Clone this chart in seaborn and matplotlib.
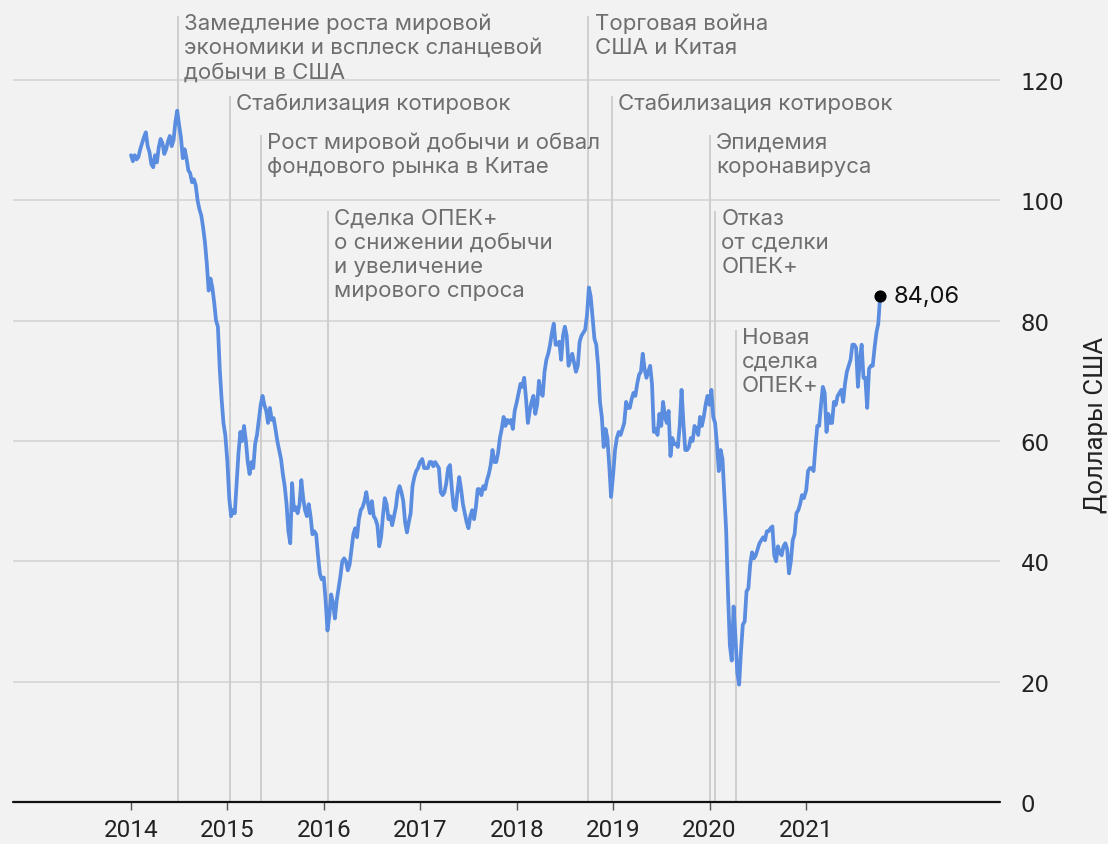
import matplotlib
matplotlib.use("Agg")
import matplotlib.pyplot as plt
import pandas as pd
import seaborn as sns

# ---------------- data (weekly Brent price, USD) ----------------
years = [2014, 2015, 2016, 2017, 2018, 2019, 2020, 2021]

price_2014 = [107.5, 106.5, 107.5, 106.8, 107.2, 108.5, 109.5, 110.5, 111.3, 109.0,
              108.0, 106.0, 105.5, 107.5, 106.3, 108.8, 110.2, 109.5, 107.7, 108.5,
              109.8, 110.7, 109.0, 110.0, 113.0, 114.9, 112.5, 110.5, 107.0, 108.5,
              107.0, 105.0, 104.5, 103.0, 103.5, 102.5, 100.0, 98.5, 97.5, 95.5,
              93.0, 89.5, 85.0, 87.0, 85.5, 83.0, 80.0, 79.0, 72.0, 67.0,
              63.0, 61.0]
price_2015 = [56.5, 50.5, 47.5, 48.5, 48.0, 53.0, 58.0, 61.5, 60.0, 62.5,
              60.0, 56.5, 54.5, 56.5, 55.5, 59.5, 61.0, 63.5, 66.0, 67.5,
              66.0, 65.0, 63.0, 65.5, 63.5, 63.8, 62.0, 60.0, 58.5, 57.0,
              54.5, 52.5, 49.5, 45.0, 43.0, 53.0, 48.5, 49.0, 48.0, 49.5,
              53.5, 50.5, 48.5, 47.5, 49.5, 47.5, 44.5, 45.0, 44.5, 41.0,
              38.0, 37.0]
price_2016 = [37.3, 33.5, 28.5, 31.0, 34.5, 33.0, 30.5, 33.5, 35.5, 37.5,
              40.0, 40.5, 40.0, 38.5, 39.5, 42.0, 44.5, 45.5, 44.0, 47.0,
              48.5, 49.0, 50.0, 51.5, 49.5, 48.0, 50.0, 47.5, 47.0, 46.0,
              42.5, 44.0, 47.5, 50.5, 49.5, 47.0, 47.5, 46.0, 47.5, 49.0,
              51.5, 52.5, 51.5, 50.0, 46.5, 44.8, 46.5, 48.0, 52.5, 54.0,
              55.0, 55.5, 56.5]
price_2017 = [56.5, 57.0, 55.5, 55.5, 55.5, 56.5, 56.5, 55.8, 56.5, 56.0,
              55.5, 51.5, 51.0, 51.5, 53.0, 55.5, 56.0, 52.0, 49.0, 48.5,
              51.5, 54.0, 52.0, 49.5, 48.0, 46.5, 45.5, 47.5, 48.5, 47.0,
              49.0, 52.0, 52.0, 51.0, 52.5, 52.0, 53.5, 54.5, 56.0, 58.5,
              56.5, 56.5, 58.0, 60.5, 62.0, 64.0, 62.5, 63.5, 63.0, 63.5,
              62.0, 65.0]
price_2018 = [66.5, 68.0, 69.5, 69.0, 70.5, 67.0, 63.0, 65.0, 66.5, 67.5,
              64.5, 66.0, 70.0, 68.0, 67.5, 71.5, 73.5, 74.5, 76.0, 78.0,
              79.5, 76.0, 76.0, 76.5, 73.5, 77.5, 79.0, 77.5, 72.5, 73.5,
              74.5, 73.0, 71.5, 72.5, 76.5, 77.5, 78.0, 78.5, 81.0, 85.5,
              84.0, 80.5, 77.0, 76.0, 72.5, 66.5, 64.0, 59.0, 62.0, 60.5,
              56.0, 50.7]
price_2019 = [54.5, 58.5, 60.5, 61.5, 61.0, 62.0, 63.0, 66.5, 65.5, 65.5,
              67.0, 68.0, 67.5, 69.5, 71.0, 71.5, 74.5, 72.0, 70.5, 71.5,
              72.5, 69.5, 61.5, 62.0, 61.0, 64.5, 62.5, 66.5, 64.0, 63.0,
              65.0, 57.5, 60.5, 59.5, 59.5, 59.0, 62.5, 68.5, 63.0, 58.5,
              58.5, 59.0, 60.5, 60.0, 62.5, 62.0, 61.0, 64.0, 62.5, 64.0,
              66.0, 67.5]
price_2020 = [66.0, 68.5, 64.0, 63.0, 59.5, 55.0, 58.5, 57.0, 51.0, 45.0,
              34.5, 26.0, 23.5, 32.5, 27.5, 21.5, 19.5, 25.0, 29.5, 30.0,
              35.0, 35.5, 39.5, 41.5, 40.5, 41.0, 42.0, 43.0, 43.5, 44.0,
              43.5, 45.0, 45.0, 45.5, 45.8, 41.0, 40.0, 42.5, 41.5, 41.0,
              42.5, 43.0, 42.0, 38.0, 40.0, 43.5, 44.5, 48.0, 48.5, 49.5,
              51.0, 50.5]
price_2021 = [51.8, 55.0, 55.5, 55.5, 55.0, 59.0, 62.5, 62.5, 66.0, 69.0,
              68.0, 61.5, 64.5, 63.0, 63.0, 66.5, 66.0, 67.5, 68.0, 68.5,
              66.5, 69.5, 71.5, 72.5, 73.5, 76.0, 76.0, 75.5, 69.0, 73.5,
              76.0, 70.5, 70.5, 65.5, 72.0, 72.5, 72.5, 75.5, 78.0, 79.5,
              84.06]

yearly_prices = [price_2014, price_2015, price_2016, price_2017,
                 price_2018, price_2019, price_2020, price_2021]

event_dates = ["2014-06-27", "2015-01-10", "2015-05-08", "2016-01-16",
               "2018-09-29", "2018-12-26", "2020-01-01", "2020-01-22", "2020-04-09"]
event_labels = [
    "Замедление роста мировой\nэкономики и всплеск сланцевой\nдобычи в США",
    "Стабилизация котировок",
    "Рост мировой добычи и обвал\nфондового рынка в Китае",
    "Сделка ОПЕК+\nо снижении добычи\nи увеличение\nмирового спроса",
    "Торговая война\nСША и Китая",
    "Стабилизация котировок",
    "Эпидемия\nкоронавируса",
    "Отказ\nот сделки\nОПЕК+",
    "Новая\nсделка\nОПЕК+",
]
# layout: top of each event marker line (in price units)
event_tops = [130.6, 117.4, 110.8, 98.2, 130.6, 117.4, 110.8, 98.2, 78.4]

y_ticks = [0, 20, 40, 60, 80, 100, 120]
y_label = "Доллары США"

# ---------------- build frame ----------------
frames = []
for yr, vals in zip(years, yearly_prices):
    d = pd.date_range(f"{yr}-01-01", periods=len(vals), freq="7D")
    frames.append(pd.DataFrame({"date": d, "price": vals}))
df = pd.concat(frames, ignore_index=True)

# ---------------- style ----------------
sns.set_theme(style="white")
plt.rcParams["font.family"] = ["Inter", "DejaVu Sans"]
BG = "#f2f2f2"
LINE = "#5a8de0"
GRID = "#d4d4d4"
ANN = "#6e6e6e"

fig = plt.figure(figsize=(11.08, 8.45), dpi=100, facecolor=BG)
ax = fig.add_axes([13 / 1108, 42 / 845, 987 / 1108, 803 / 845])
ax.set_facecolor(BG)

sns.lineplot(data=df, x="date", y="price", ax=ax, color=LINE,
             linewidth=2.7, zorder=4, legend=False)

ax.set_xlim(pd.Timestamp("2012-10-11"), pd.Timestamp("2023-01-05"))
ax.set_ylim(0, 133.46)

for s in ax.spines.values():
    s.set_visible(False)

ax.set_yticks(y_ticks)
ax.set_yticklabels([str(v) for v in y_ticks], family=["DejaVu Sans"])
ax.grid(axis="y", color=GRID, linewidth=1.2, zorder=0)
ax.grid(axis="x", visible=False)
ax.axhline(0, color="#111111", linewidth=1.6, zorder=3, clip_on=False)

ax.yaxis.tick_right()
ax.tick_params(axis="y", length=0, pad=15, labelsize=16.5, labelcolor="#222222")
ax.set_ylabel("")
fig.text(1096 / 1108, 1 - 425 / 845, y_label, rotation=90, ha="center", va="center",
         fontsize=18.5, family=["Roboto", "DejaVu Sans"], color="#222222")

xt = pd.to_datetime([f"{y}-01-01" for y in years])
ax.set_xticks(xt)
ax.set_xticklabels([str(y) for y in years], family=["Roboto", "DejaVu Sans"])
ax.tick_params(axis="x", length=6, width=1, color="#555555", pad=5.5,
               labelsize=17.5, labelcolor="#222222", direction="out", bottom=True)
ax.set_xlabel("")

# event lines and labels
ev = pd.to_datetime(event_dates)
ax.vlines(ev, 0, event_tops, color="#cccccc", linewidth=1.3, zorder=1)
for d, lab, top in zip(ev, event_labels, event_tops):
    ax.annotate(lab, (d, top), xytext=(4.5, 2.5), textcoords="offset points",
                ha="left", va="top", fontsize=16, color=ANN, linespacing=1.25,
                zorder=5)

# last value
last_date = df["date"].iloc[-1]
last_price = df["price"].iloc[-1]
ax.scatter([last_date], [last_price], s=60, color="black", zorder=6)
ax.annotate(f"{last_price:.2f}".replace(".", ","), (last_date, last_price),
            xytext=(10, 0.5), textcoords="offset points", va="center", ha="left",
            fontsize=17, color="#111111", zorder=6)

fig.savefig("out.png", dpi=100, facecolor=BG)
